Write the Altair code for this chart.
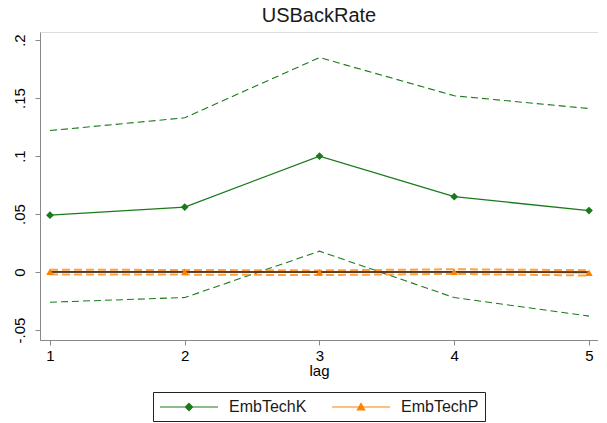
import altair as alt
import pandas as pd

lags = [1, 2, 3, 4, 5]
series_names = ["EmbTechK", "EmbTechP"]

k_irf = [0.049, 0.056, 0.100, 0.065, 0.053]
k_upper = [0.122, 0.133, 0.185, 0.152, 0.141]
k_lower = [-0.026, -0.022, 0.018, -0.022, -0.038]

p_irf = [0.0002, 0.0002, -0.0002, 0.0003, -0.0006]
p_upper = [0.0020, 0.0018, 0.0014, 0.0024, 0.0016]
p_lower = [-0.0020, -0.0022, -0.0026, -0.0016, -0.0030]

zero_line = [0, 0, 0, 0, 0]

y_ticks = [-0.05, 0, 0.05, 0.1, 0.15, 0.2]

GREEN = "#1a7a1a"
ORANGE = "#ff8000"
FONT = "Liberation Sans"

rows = []
for i, l in enumerate(lags):
    rows.append({"lag": l, "series": "EmbTechK", "kind": "irf", "value": k_irf[i]})
    rows.append({"lag": l, "series": "EmbTechK", "kind": "upper", "value": k_upper[i]})
    rows.append({"lag": l, "series": "EmbTechK", "kind": "lower", "value": k_lower[i]})
    rows.append({"lag": l, "series": "EmbTechP", "kind": "irf", "value": p_irf[i]})
    rows.append({"lag": l, "series": "EmbTechP", "kind": "upper", "value": p_upper[i]})
    rows.append({"lag": l, "series": "EmbTechP", "kind": "lower", "value": p_lower[i]})
    rows.append({"lag": l, "series": "zero", "kind": "zero", "value": zero_line[i]})
df = pd.DataFrame(rows)

x_enc = alt.X(
    "lag:Q",
    scale=alt.Scale(domain=[0.926, 5.067], nice=False, zero=False),
    axis=alt.Axis(values=lags, format="d", title="lag", grid=False,
                  tickSize=5, labelPadding=3, titlePadding=0,
                  labelFontSize=15, titleFontSize=15, titleFontWeight="normal"),
)
y_enc = alt.Y(
    "value:Q",
    scale=alt.Scale(domain=[-0.0586, 0.207], nice=False, zero=False),
    axis=alt.Axis(values=y_ticks, title=None, grid=False, tickSize=5,
                  labelAngle=270, labelAlign="center", labelBaseline="bottom",
                  labelPadding=8, labelFontSize=15,
                  labelExpr="replace(replace(format(datum.value, '~g'), '\u2212', '-'), '0.', '.')"),
)

base = alt.Chart(df)

k_ci = base.transform_filter(
    "datum.series == 'EmbTechK' && datum.kind != 'irf'"
).mark_line(color=GREEN, strokeWidth=1.1, strokeDash=[7, 4]).encode(
    x=x_enc, y=y_enc, detail="kind:N"
)
k_line = base.transform_filter(
    "datum.series == 'EmbTechK' && datum.kind == 'irf'"
).mark_line(color=GREEN, strokeWidth=1.3).encode(x=x_enc, y=y_enc)
k_pts = base.transform_filter(
    "datum.series == 'EmbTechK' && datum.kind == 'irf'"
).mark_point(shape="diamond", filled=True, color=GREEN, size=60, opacity=1).encode(x=x_enc, y=y_enc)

p_ci = base.transform_filter(
    "datum.series == 'EmbTechP' && datum.kind != 'irf'"
).mark_line(color=ORANGE, strokeWidth=2.0, strokeDash=[8, 4], opacity=0.75).encode(
    x=x_enc, y=y_enc, detail="kind:N"
)
p_line = base.transform_filter(
    "datum.series == 'EmbTechP' && datum.kind == 'irf'"
).mark_line(color=ORANGE, strokeWidth=1.5).encode(x=x_enc, y=y_enc)
zero = base.transform_filter("datum.kind == 'zero'").mark_line(
    color="#222222", strokeWidth=1.4
).encode(x=x_enc, y=y_enc)
p_pts = base.transform_filter(
    "datum.series == 'EmbTechP' && datum.kind == 'irf'"
).mark_point(shape="triangle-up", filled=True, color=ORANGE, size=55, opacity=1).encode(x=x_enc, y=y_enc)

# legend symbols: a line with the marker in its middle (custom paths, scale 8 px per unit)
path_k = "M-1,0H6.25M2.625,-0.45L3.075,0L2.625,0.45L2.175,0Z"
path_p = "M-1,0H6.25M2.175,0.35L2.625,-0.45L3.075,0.35Z"

leg = alt.Legend(
    title=None, orient="none", legendX=113, legendY=360,
    direction="horizontal", strokeColor="#222222", padding=6,
    symbolSize=256, symbolStrokeWidth=1.2, symbolOpacity=1,
    labelFontSize=16, labelOffset=52, columnPadding=22,
    labelFont=FONT, labelColor="#1a1a1a",
)

legend_layer = base.transform_filter(
    "datum.kind == 'irf'"
).mark_point(opacity=0, strokeWidth=1.2).encode(
    x=x_enc, y=y_enc,
    fill=alt.Fill("series:N", scale=alt.Scale(domain=series_names, range=[GREEN, ORANGE]), legend=leg),
    stroke=alt.Stroke("series:N", scale=alt.Scale(domain=series_names, range=[GREEN, ORANGE]), legend=leg),
    shape=alt.Shape("series:N", scale=alt.Scale(domain=series_names, range=[path_k, path_p]), legend=leg),
)

chart = alt.layer(
    k_ci, k_line, k_pts, p_ci, p_line, zero, p_pts, legend_layer
).properties(
    width=558, height=308,
    title=alt.TitleParams("USBackRate", fontSize=20, font=FONT, fontWeight="normal",
                          color="#1a1a1a", offset=6),
    autosize=alt.AutoSizeParams(type="none"),
    padding={"left": 32, "top": 24, "right": 0, "bottom": 82},
).configure_view(
    stroke="#333333", strokeWidth=1.5
).configure_axis(
    domainColor="#333333", domainWidth=1.5, tickColor="#333333", tickWidth=1.2,
    labelFont=FONT, titleFont=FONT, labelColor="#1a1a1a", titleColor="#1a1a1a",
).configure(background="white")

chart.save("out.html", embed_options={"renderer": "svg", "actions": False})
